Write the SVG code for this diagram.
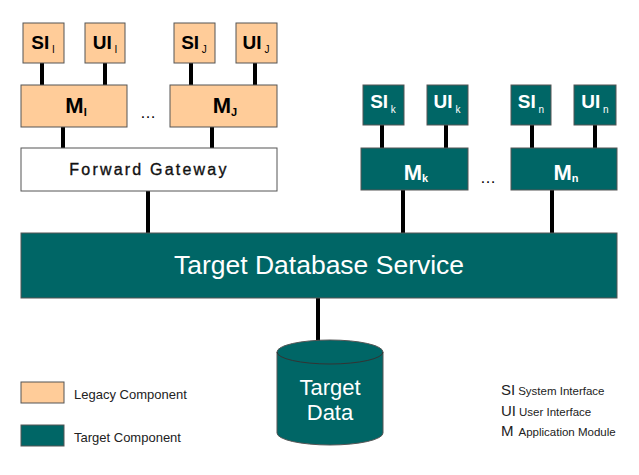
<svg xmlns="http://www.w3.org/2000/svg" width="639" height="475" viewBox="0 0 639 475">
<style>
  .leg { fill: #FFCC99; stroke: #555; stroke-width: 1; }
  .tgt { fill: #006666; stroke: #555; stroke-width: 1; }
  .wht { fill: #fff; stroke: #555; stroke-width: 1; }
  .conn line { stroke: #000; stroke-width: 4; }
  text { font-family: "Liberation Sans", Arial, sans-serif; }
  .lbl { font-size: 19px; font-weight: bold; text-anchor: middle; }
  .sub { font-size: 10px; font-weight: normal; }
  .mlbl { font-size: 22px; font-weight: bold; text-anchor: middle; }
  .msub { font-size: 11px; font-weight: bold; }
  .dark { fill: #000; }
  .light { fill: #fff; }
  .legtxt { font-size: 13px; fill: #222; }
</style>
<rect width="639" height="475" fill="#fff"/>
<g class="conn">
  <line x1="42" y1="63" x2="42" y2="85"/>
  <line x1="105" y1="63" x2="105" y2="85"/>
  <line x1="191" y1="63" x2="191" y2="85"/>
  <line x1="255" y1="63" x2="255" y2="85"/>
  <line x1="63" y1="127" x2="63" y2="148"/>
  <line x1="212" y1="127" x2="212" y2="148"/>
  <line x1="148" y1="191" x2="148" y2="233"/>
  <line x1="382" y1="125" x2="382" y2="148"/>
  <line x1="446" y1="125" x2="446" y2="148"/>
  <line x1="532" y1="125" x2="532" y2="148"/>
  <line x1="595" y1="125" x2="595" y2="148"/>
  <line x1="403" y1="190" x2="403" y2="233"/>
  <line x1="552" y1="190" x2="552" y2="233"/>
  <line x1="318" y1="298" x2="318" y2="341"/>
</g>
<g id="SI_I"><rect class="leg" x="23" y="23" width="41" height="40"/><text class="lbl dark" x="43" y="49">SI<tspan class="sub" dy="4"> I</tspan></text></g>
<g id="UI_I"><rect class="leg" x="85" y="23" width="40" height="40"/><text class="lbl dark" x="105" y="49">UI<tspan class="sub" dy="4"> I</tspan></text></g>
<g id="SI_J"><rect class="leg" x="174" y="23" width="41" height="40"/><text class="lbl dark" x="194" y="49">SI<tspan class="sub" dy="4"> J</tspan></text></g>
<g id="UI_J"><rect class="leg" x="236" y="23" width="41" height="40"/><text class="lbl dark" x="256" y="49">UI<tspan class="sub" dy="4"> J</tspan></text></g>
<g id="M_I"><rect class="leg" x="21" y="85" width="106" height="42"/><text class="mlbl dark" x="76" y="113">M<tspan class="msub" dy="3">I</tspan></text></g>
<g id="M_J"><rect class="leg" x="170" y="85" width="107" height="42"/><text class="mlbl dark" x="225" y="113">M<tspan class="msub" dy="3">J</tspan></text></g>
<g id="dots1"><text x="148" y="118" font-size="16" text-anchor="middle" fill="#000">…</text></g>
<g id="FG"><rect class="wht" x="21" y="148" width="256" height="43"/><text x="149" y="175" font-size="16" text-anchor="middle" letter-spacing="2.2" fill="#111" stroke="#111" stroke-width="0.35">Forward Gateway</text></g>
<g id="SI_k"><rect class="tgt" x="363" y="85" width="41" height="40"/><text class="lbl light" x="383" y="108">SI<tspan class="sub" dy="5"> k</tspan></text></g>
<g id="UI_k"><rect class="tgt" x="427" y="85" width="41" height="40"/><text class="lbl light" x="447" y="108">UI<tspan class="sub" dy="5"> k</tspan></text></g>
<g id="SI_n"><rect class="tgt" x="511" y="85" width="40" height="40"/><text class="lbl light" x="531" y="108">SI<tspan class="sub" dy="5"> n</tspan></text></g>
<g id="UI_n"><rect class="tgt" x="574" y="85" width="42" height="40"/><text class="lbl light" x="595" y="108">UI<tspan class="sub" dy="5"> n</tspan></text></g>
<g id="M_k"><rect class="tgt" x="361" y="148" width="107" height="42"/><text class="mlbl light" x="416" y="180">M<tspan class="msub" dy="2">k</tspan></text></g>
<g id="M_n"><rect class="tgt" x="511" y="148" width="106" height="42"/><text class="mlbl light" x="566" y="180">M<tspan class="msub" dy="2">n</tspan></text></g>
<g id="dots2"><text x="488" y="183" font-size="16" text-anchor="middle" fill="#000">…</text></g>
<g id="TDS"><rect class="tgt" x="21" y="233" width="596" height="65"/><text x="319" y="274" font-size="26.5" text-anchor="middle" fill="#fff">Target Database Service</text></g>
<g id="TargetData">
  <path class="tgt" d="M277,352 A53,12 0 0 1 383,352 L383,433 A53,12 0 0 1 277,433 Z"/>
  <path d="M277,352 A53,12 0 0 0 383,352" fill="none" stroke="#333" stroke-width="1"/>
  <text x="330" y="395" font-size="22" text-anchor="middle" fill="#fff">Target</text>
  <text x="330" y="420" font-size="22" text-anchor="middle" fill="#fff">Data</text>
</g>
<g id="legend">
  <rect class="leg" x="21" y="382" width="43" height="21"/>
  <text class="legtxt" x="74" y="399">Legacy Component</text>
  <rect class="tgt" x="21" y="425" width="43" height="21"/>
  <text class="legtxt" x="74" y="442">Target Component</text>
  <text x="501" y="395" font-size="15" fill="#222">SI<tspan font-size="11.5" dx="3">System Interface</tspan></text>
  <text x="501" y="416" font-size="15" fill="#222">UI<tspan font-size="11.5" dx="3">User Interface</tspan></text>
  <text x="501" y="436" font-size="15" fill="#222">M<tspan font-size="11.5" dx="5">Application Module</tspan></text>
</g>
</svg>
